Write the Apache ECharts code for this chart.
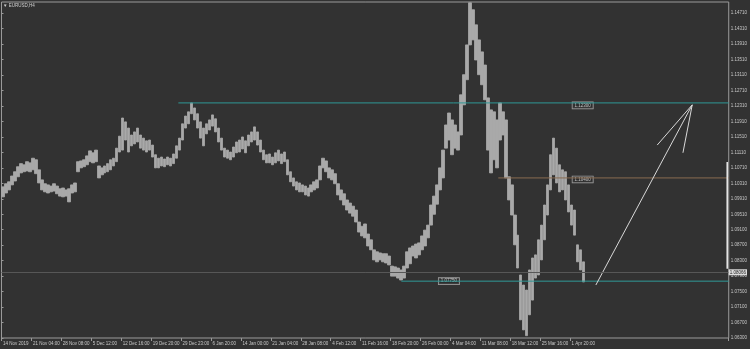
<!DOCTYPE html>
<html><head><meta charset="utf-8">
<script src="https://cdn.jsdelivr.net/npm/echarts/dist/echarts.min.js"></script>
<style>html,body{margin:0;padding:0;background:#323232}#c{width:750px;height:349px}</style>
</head><body><div id="c"></div>
<script>
const chartTitle = '\u25BC EURUSD,H4';
const xTickLabels = ["14 Nov 2019","21 Nov 04:00","28 Nov 08:00","5 Dec 12:00","12 Dec 16:00","19 Dec 20:00","29 Dec 23:00","6 Jan 20:00","14 Jan 00:00","21 Jan 04:00","28 Jan 08:00","4 Feb 12:00","11 Feb 16:00","18 Feb 20:00","26 Feb 00:00","4 Mar 04:00","11 Mar 08:00","18 Mar 12:00","25 Mar 16:00","1 Apr 20:00"];
const yTickLabels = ["1.06300","1.06700","1.07100","1.07500","1.07900","1.08300","1.08700","1.09100","1.09510","1.09910","1.10310","1.10710","1.11110","1.11510","1.11910","1.12310","1.12710","1.13110","1.13510","1.13910","1.14310","1.14710"];
const Y_MIN = 1.063, Y_MAX = 1.1499, Y_STEP = 0.004;
const BAR_SLOTS = 243;   // visible bar slots incl. right shift
const LABEL_EVERY = 10;

const barLow = [
1.0995,1.1005,1.1013,1.1026,1.1036,1.1047,1.1057,1.1060,1.1062,1.1060,
1.1065,1.1055,1.1031,1.1013,1.1008,1.1005,1.1008,1.1010,1.1003,1.0997,
1.0995,1.0997,1.0982,1.1005,1.1008,1.1060,1.1070,1.1073,1.1078,1.1086,
1.1083,1.1086,1.1044,1.1052,1.1057,1.1060,1.1065,1.1075,1.1086,1.1111,
1.1116,1.1142,1.1111,1.1127,1.1132,1.1137,1.1121,1.1116,1.1111,1.1116,
1.1098,1.1070,1.1070,1.1075,1.1073,1.1078,1.1075,1.1081,1.1095,1.1116,
1.1142,1.1173,1.1184,1.1210,1.1194,1.1173,1.1147,1.1127,1.1158,1.1168,
1.1178,1.1163,1.1137,1.1116,1.1098,1.1095,1.1091,1.1098,1.1109,1.1111,
1.1119,1.1109,1.1127,1.1137,1.1142,1.1129,1.1111,1.1091,1.1083,1.1083,
1.1078,1.1083,1.1088,1.1081,1.1086,1.1052,1.1034,1.1023,1.1013,1.1008,
1.1008,1.1000,1.0997,1.1008,1.1013,1.1018,1.1039,1.1070,1.1060,1.1044,
1.1039,1.1029,1.1000,1.0987,1.0974,1.0961,1.0953,1.0945,1.0930,1.0904,
1.0894,1.0889,1.0868,1.0858,1.0832,1.0827,1.0832,1.0827,1.0824,1.0819,
1.0790,1.0790,1.0785,1.0780,1.0785,1.0811,1.0822,1.0842,1.0837,1.0845,
1.0858,1.0868,1.0889,1.0922,1.0950,1.0976,1.1013,1.1044,1.1121,1.1142,
1.1104,1.1121,1.1116,1.1155,1.1233,1.1298,1.1388,1.1401,1.1349,1.1311,
1.1285,1.1246,1.1116,1.1057,1.1091,1.1070,1.1142,1.1155,1.1044,1.0987,
1.0948,1.0871,1.0811,1.0677,1.0651,1.0636,1.0690,1.0728,1.0785,1.0793,
1.0832,1.0884,1.0948,1.1013,1.1052,1.1031,1.1008,1.1013,1.0987,1.0956,
1.0922,1.0896,1.0827,1.0806,1.0775];
const barHigh = [
1.1021,1.1029,1.1034,1.1049,1.1060,1.1073,1.1081,1.1078,1.1086,1.1083,
1.1095,1.1091,1.1065,1.1039,1.1029,1.1026,1.1023,1.1029,1.1023,1.1016,
1.1018,1.1013,1.1016,1.1026,1.1031,1.1086,1.1088,1.1091,1.1101,1.1114,
1.1109,1.1116,1.1075,1.1070,1.1075,1.1081,1.1091,1.1095,1.1121,1.1152,
1.1199,1.1189,1.1173,1.1155,1.1163,1.1173,1.1155,1.1147,1.1140,1.1142,
1.1129,1.1104,1.1095,1.1098,1.1093,1.1098,1.1095,1.1106,1.1127,1.1147,
1.1184,1.1204,1.1215,1.1238,1.1225,1.1210,1.1189,1.1173,1.1184,1.1194,
1.1207,1.1197,1.1173,1.1147,1.1121,1.1116,1.1111,1.1124,1.1137,1.1142,
1.1150,1.1140,1.1155,1.1163,1.1176,1.1163,1.1142,1.1116,1.1104,1.1106,
1.1098,1.1109,1.1116,1.1106,1.1111,1.1091,1.1060,1.1044,1.1034,1.1031,
1.1026,1.1023,1.1018,1.1026,1.1034,1.1039,1.1075,1.1095,1.1088,1.1070,
1.1065,1.1055,1.1029,1.1013,1.1003,1.0987,1.0979,1.0971,1.0961,1.0930,
1.0919,1.0925,1.0899,1.0884,1.0858,1.0853,1.0850,1.0848,1.0848,1.0842,
1.0816,1.0814,1.0811,1.0806,1.0816,1.0853,1.0863,1.0868,1.0873,1.0876,
1.0894,1.0909,1.0922,1.0974,1.0997,1.1026,1.1070,1.1116,1.1181,1.1212,
1.1194,1.1181,1.1163,1.1259,1.1311,1.1388,1.1497,1.1479,1.1440,1.1401,
1.1370,1.1336,1.1251,1.1220,1.1215,1.1194,1.1238,1.1215,1.1194,1.1047,
1.1026,1.0948,1.0896,1.0793,1.0767,1.0754,1.0806,1.0837,1.0845,1.0884,
1.0922,1.0974,1.1026,1.1104,1.1147,1.1121,1.1078,1.1065,1.1060,1.1026,
1.0974,1.0961,1.0871,1.0858,1.0827];

// horizontal levels (price, starting bar position, label text, label bar position)
const levelPrices = [1.1238, 1.1044, 1.0777];
const levelStarts = [59.1, 166, 133.6];
const levelTexts = ['1.12300', '1.10400', '1.07750'];
const levelLabelAt = [194.2, 194.2, 149.5];
const levelColors = ['#2f9896', '#8a6c50', '#2f9896'];
const levelLabelDy = [2.5, 1.5, 0];

const bidPrice = 1.0809;
const bidText = '1.08066';
const rightMarker = [[242.5, 1.1085], [242.5, 1.0809]];
const arrowShaft = [[198.6, 1.0767], [230.8, 1.1233]];
const arrowHead = [[219.1, 1.1129], [230.8, 1.1233], [227.7, 1.1109]];

const cats = Array.from({length: BAR_SLOTS}, (_, i) => String(i));
const candles = barLow.map((l, i) => [l, barHigh[i], l, barHigh[i]]);
const FONT = 'Liberation Sans, Arial, sans-serif';
const isLabelIdx = (i) => i % LABEL_EVERY === 0 && (i / LABEL_EVERY) < xTickLabels.length;

const series = [{
  type: 'candlestick', xAxisIndex: 0, yAxisIndex: 0, data: candles, barWidth: 3, barMaxWidth: 4,
  itemStyle: {color: '#a9a9a9', color0: '#a9a9a9', borderColor: '#a9a9a9', borderColor0: '#a9a9a9', borderWidth: 0.8},
  markLine: {
    silent: true, symbol: 'none', animation: false,
    lineStyle: {color: '#575757', width: 1, type: 'solid'},
    label: {show: true, position: 'end', distance: 0, formatter: bidText, fontSize: 4.5, fontFamily: FONT,
      color: '#1c1c1c', backgroundColor: '#dcdcdc', padding: [1, 1, 0, 1], lineHeight: 5},
    data: [{yAxis: bidPrice}]
  }
}];
levelPrices.forEach((p, i) => {
  series.push({
    type: 'line', xAxisIndex: 1, yAxisIndex: 0, symbol: 'none', silent: true,
    lineStyle: {color: levelColors[i], width: 1}, data: [[levelStarts[i], p], [BAR_SLOTS, p]]
  });
  series.push({
    type: 'scatter', xAxisIndex: 1, yAxisIndex: 0, symbolSize: 0, silent: true,
    data: [[levelLabelAt[i], p]],
    label: {show: true, position: 'inside', offset: [0, levelLabelDy[i]], formatter: levelTexts[i],
      fontSize: 4.5, fontFamily: FONT, color: '#e6e6e6', backgroundColor: '#2c2c2c',
      borderColor: '#b8b8b8', borderWidth: 0.8, padding: [1, 2, 0, 2], lineHeight: 5}
  });
});
series.push({type: 'line', xAxisIndex: 1, yAxisIndex: 0, symbol: 'none', silent: true,
  lineStyle: {color: '#e4e4e4', width: 1.6}, data: rightMarker});
series.push({type: 'line', xAxisIndex: 1, yAxisIndex: 0, symbol: 'none', silent: true,
  lineStyle: {color: '#d9d9d9', width: 1}, data: arrowShaft});
series.push({type: 'line', xAxisIndex: 1, yAxisIndex: 0, symbol: 'none', silent: true,
  lineStyle: {color: '#d9d9d9', width: 1}, data: arrowHead});

const chart = echarts.init(document.getElementById('c'), null, {renderer: 'canvas'});
chart.setOption({
  backgroundColor: '#323232',
  animation: false,
  textStyle: {fontFamily: FONT},
  title: {text: chartTitle, left: 3, top: 3, padding: 0,
    textStyle: {fontSize: 4.5, fontWeight: 'normal', color: '#cfcfcf', fontFamily: FONT}},
  grid: {left: 1, right: 20, top: 2, bottom: 11, show: true, borderColor: '#9a9a9a', borderWidth: 1, backgroundColor: 'transparent'},
  xAxis: [{
    type: 'category', data: cats, boundaryGap: true,
    axisLine: {show: false},
    axisTick: {show: true, interval: (i) => isLabelIdx(i), length: 3, lineStyle: {color: '#9a9a9a'}},
    axisLabel: {interval: (i) => isLabelIdx(i), formatter: (v, i) => xTickLabels[Number(v) / LABEL_EVERY] || '',
      align: 'left', fontSize: 4.5, color: '#c8c8c8', margin: 3, fontFamily: FONT},
    splitLine: {show: false}
  }, {
    type: 'value', min: 0, max: BAR_SLOTS, show: false
  }],
  yAxis: {
    type: 'value', position: 'right', min: Y_MIN, max: Y_MAX, interval: Y_STEP, scale: true,
    splitLine: {show: false}, axisLine: {show: false},
    axisTick: {show: true, length: 2, lineStyle: {color: '#9a9a9a'}},
    axisLabel: {fontSize: 4.5, color: '#c8c8c8', margin: 2, fontFamily: FONT, showMaxLabel: false,
      formatter: (v) => { const k = Math.round((v - Y_MIN) / Y_STEP); return Math.abs(v - (Y_MIN + k * Y_STEP)) < 1e-6 ? (yTickLabels[k] || '') : ''; }}
  },
  series: series
});
</script>
</body></html>
